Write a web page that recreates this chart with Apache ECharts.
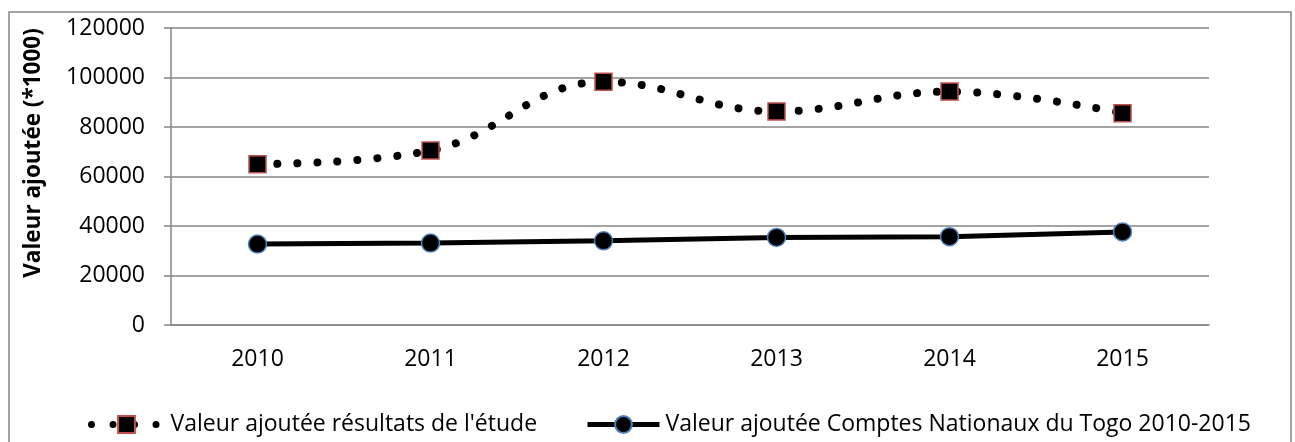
<!DOCTYPE html>
<html>
<head>
<meta charset="utf-8">
<script src="https://cdn.jsdelivr.net/npm/echarts@6/dist/echarts.min.js"></script>
<style>
  html, body { margin: 0; padding: 0; background: #fff; }
  #chart { width: 1295px; height: 442px; }
</style>
</head>
<body>
<div id="chart"></div>
<script>
  // annees
  var years = ['2010', '2011', '2012', '2013', '2014', '2015']
  // valeur ajoutee (*1000)
  var etude = [65000, 70500, 98300, 86300, 94300, 85600]
  var comptesNationaux = [32700, 33100, 34000, 35400, 35700, 37600]
  var yTicks = [0, 20000, 40000, 60000, 80000, 100000, 120000]

  var nomEtude = "Valeur ajoutée résultats de l'étude"
  var nomComptes = 'Valeur ajoutée Comptes Nationaux du Togo 2010-2015'
  var titreY = 'Valeur ajoutée (*1000)'
  var gris = '#868686'
  var police = 'Open Sans'
  var taille = 23

  var chart = echarts.init(document.getElementById('chart'))
  chart.setOption({
    animation: false,
    textStyle: { fontFamily: police },
    graphic: [{
      type: 'rect',
      shape: { x: 9, y: 12, width: 1282, height: 440 },
      style: { fill: 'none', stroke: gris, lineWidth: 1.5 }
    }, {
      // titre de l'axe y, un peu au-dessus du centre comme dans Excel
      type: 'text',
      x: 34,
      y: 153,
      rotation: Math.PI / 2,
      style: {
        text: titreY,
        fontFamily: police,
        fontSize: 22.5,
        fontWeight: 'bold',
        fill: '#000',
        align: 'center',
        verticalAlign: 'middle'
      }
    }],
    grid: { left: 171, right: 86, top: 28, bottom: 117 },
    legend: [{
      left: 83,
      top: 408,
      itemWidth: 70,
      itemHeight: 21,
      textStyle: { fontSize: taille, color: '#000', fontFamily: police, padding: [0, 0, 0, 4] },
      lineStyle: { width: 7, type: [0.01, 21.5], cap: 'round' },
      data: [nomEtude]
    }, {
      left: 580,
      top: 408,
      itemWidth: 72,
      itemHeight: 21,
      textStyle: { fontSize: taille, color: '#000', fontFamily: police, padding: [0, 0, 0, 1] },
      lineStyle: { width: 5 },
      data: [nomComptes]
    }],
    xAxis: {
      type: 'category',
      data: years,
      axisLine: { lineStyle: { color: gris, width: 1.5 } },
      axisTick: { length: 7, lineStyle: { color: gris, width: 1.5 } },
      axisLabel: { fontSize: taille, color: '#000', margin: 23 }
    },
    yAxis: {
      type: 'value',
      min: yTicks[0],
      max: yTicks[yTicks.length - 1],
      interval: yTicks[1] - yTicks[0],
      axisLine: { show: true, lineStyle: { color: gris, width: 1.5 } },
      axisTick: { show: true, length: 7, lineStyle: { color: gris, width: 1.5 } },
      axisLabel: {
        fontSize: taille,
        color: '#000',
        margin: 26,
        formatter: function(v) { return String(v) }
      },
      splitLine: { lineStyle: { color: gris, width: 1.5 } }
    },
    series: [{
      name: nomEtude,
      type: 'line',
      smooth: 0.4,
      data: etude,
      symbol: 'rect',
      symbolSize: 17,
      itemStyle: { color: '#000', borderColor: '#C0504D', borderWidth: 1.5 },
      lineStyle: { color: '#000', width: 8, type: [0.01, 20], cap: 'round' }
    }, {
      name: nomComptes,
      type: 'line',
      data: comptesNationaux,
      symbol: 'circle',
      symbolSize: 18,
      itemStyle: { color: '#000', borderColor: '#4F81BD', borderWidth: 1.5 },
      lineStyle: { color: '#000', width: 5 }
    }]
  })
</script>
</body>
</html>
